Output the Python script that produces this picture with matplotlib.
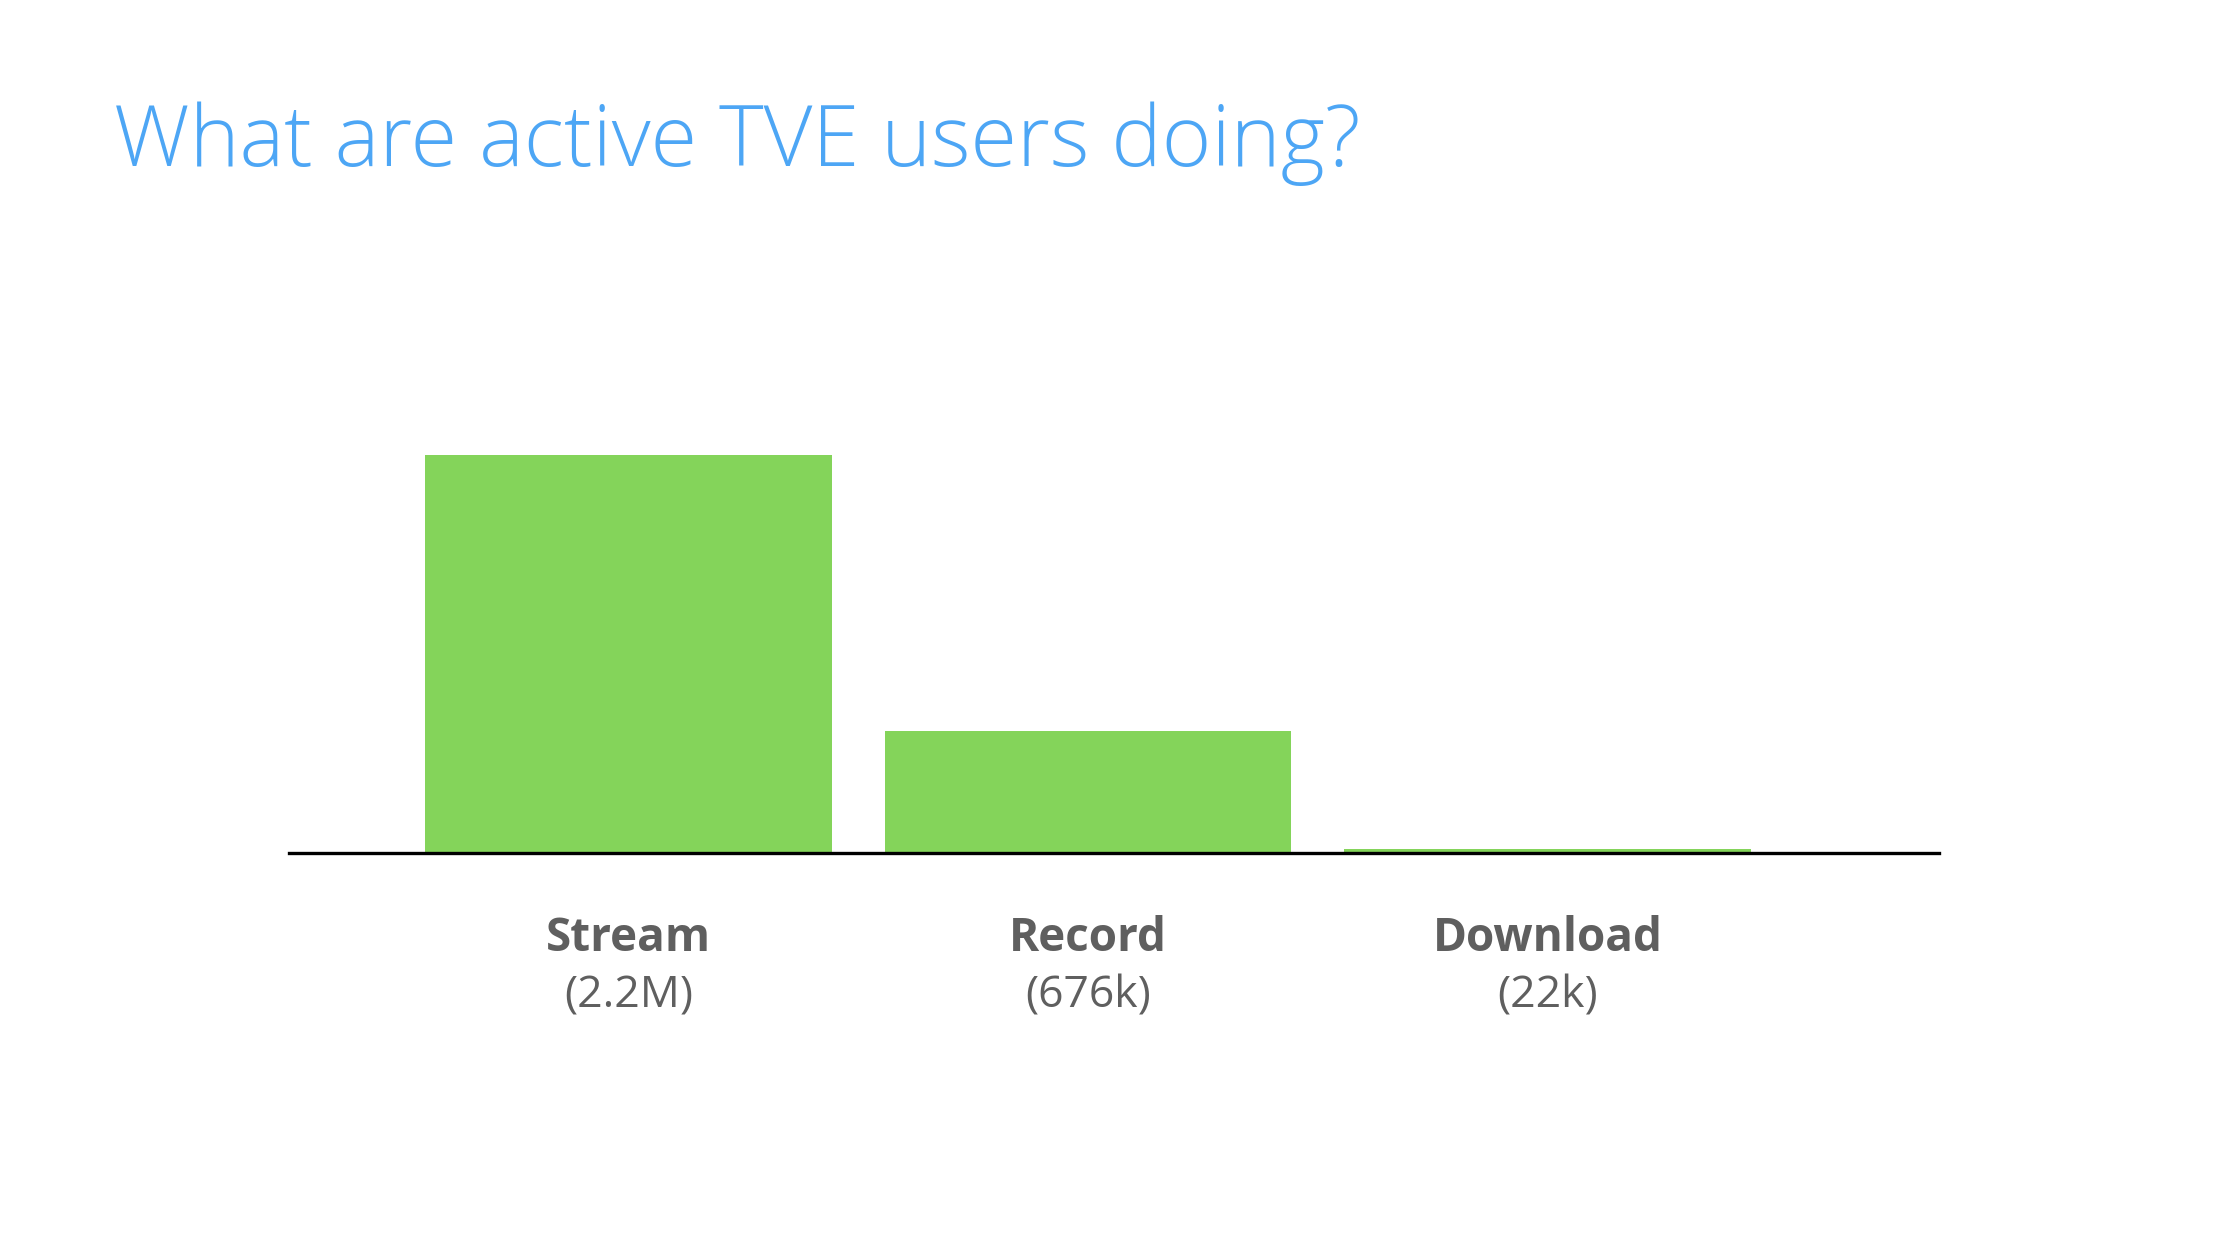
import matplotlib.pyplot as plt

# values in thousands of users
categories = ["Stream", "Record", "Download"]
users_k = [2200, 676, 22]
value_labels = ["(2.2M)", "(676k)", "(22k)"]

green = "#84d45a"
blue = "#4da6f5"
gray = "#5f5f5f"

fig = plt.figure(figsize=(22.3, 12.56), dpi=100)
ax = fig.add_axes([0.1296, 0.3209, 0.7399, 0.3168])

x = range(len(categories))
ax.bar(x, users_k, width=0.885, color=green, zorder=2)
ax.set_xlim(-0.739, 2.852)
ax.set_ylim(0, 2200)

for s in ["top", "right", "left"]:
    ax.spines[s].set_visible(False)
ax.spines["bottom"].set_linewidth(2.4)
ax.spines["bottom"].set_color("black")
ax.set_yticks([])
ax.set_xticks([])

for i, (cat, lab) in enumerate(zip(categories, value_labels)):
    ax.annotate(cat, xy=(i, 0), xycoords="data", xytext=(0, -86),
                textcoords="offset pixels", ha="center", va="center",
                fontsize=33, fontweight="bold", color=gray, family="Open Sans")
    ax.annotate(lab, xy=(i, 0), xycoords="data", xytext=(0, -143),
                textcoords="offset pixels", ha="center", va="center",
                fontsize=32, color=gray, family="Open Sans")

fig.text(114 / 2230, 1 - 166 / 1256, "What are active TVE users doing?",
         fontsize=61, color=blue, family="Open Sans", fontweight="light",
         ha="left", va="baseline")

plt.savefig("out.png", dpi=100)
